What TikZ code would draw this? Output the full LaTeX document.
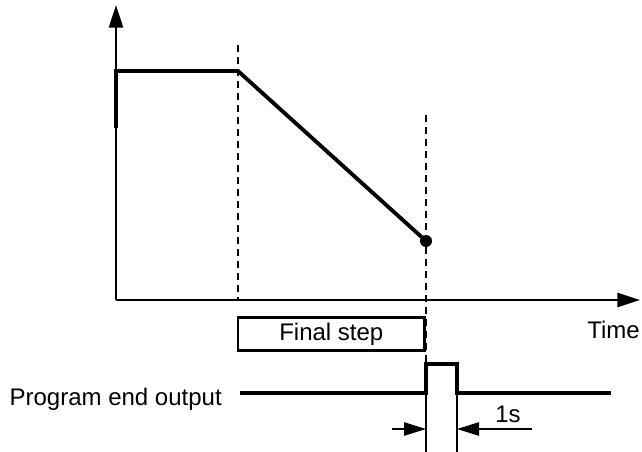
\documentclass[tikz,border=0pt]{standalone}
\usepackage{fontspec}
\setmainfont{Liberation Sans}
\usetikzlibrary{arrows.meta,positioning}
\tikzset{
  axisline/.style={line width=1.9pt,-{Triangle[length=17pt,width=10.5pt]}},
  profile/.style={line width=2.9pt},
  guide/.style={line width=1pt,dash pattern=on 5.5pt off 3.5pt},
  stepbox/.style={rectangle,draw,line width=2pt,minimum width=140pt,minimum height=25pt,
    inner sep=0pt,font=\fontsize{18}{21}\selectfont},
  signal/.style={line width=2.5pt},
  dimline/.style={line width=1.1pt},
  dimarrow/.style={line width=1.1pt,-{Triangle[length=16.5pt,width=10pt]}},
  enddot/.style={circle,fill,inner sep=0pt,minimum size=9pt},
  lbl/.style={inner sep=0pt,font=\fontsize{18}{21}\selectfont}
}

\begin{document}
\begin{tikzpicture}[x=0.75pt,y=-0.75pt]
  \useasboundingbox (0,0) rectangle (642,452);
  \coordinate (orig) at (116,300);
  \coordinate (ytop) at (116,5);
  \coordinate (xend) at (640,300);
  \coordinate (rise) at (116,128);
  \coordinate (hold) at (116,71);
  \coordinate (knee) at (238,71);
  \coordinate (kneetop) at (238,45);
  \coordinate (kneebot) at (238,300);
  \coordinate (stoptop) at (426,115);
  \coordinate (lowa) at (240,393);
  \coordinate (pulsea) at (426,393);
  \coordinate (pulseb) at (426,364);
  \coordinate (pulsec) at (457,364);
  \coordinate (pulsed) at (457,393);
  \coordinate (lowb) at (611,393);
  \coordinate (marka) at (426,452);
  \coordinate (markb) at (457,452);
  \coordinate (dimla) at (392,429);
  \coordinate (dimlb) at (426,429);
  \coordinate (dimra) at (532,429);
  \coordinate (dimrb) at (457,429);
  \node[enddot] (endpt) at (426,241) {};
  \node[stepbox,anchor=north east] (final) at (426,316) {Final step};
  \node[lbl,anchor=base east] (timelbl) at (640,338) {Time};
  \node[lbl,anchor=base east] (endlbl) at (222,405) {Program end output};
  \node[lbl,anchor=base west] (onesec) at (495,422) {1s};
  \draw[guide] (kneetop) -- (kneebot);
  \draw[guide] (stoptop) -- (pulseb);
  \draw[axisline] (orig) -- (ytop);
  \draw[axisline] (orig) -- (xend);
  \draw[profile] (rise) -- (hold) -- (knee) -- (endpt.center);
  \draw[signal] (lowa) -- (pulsea) -- (pulseb) -- (pulsec) -- (pulsed) -- (lowb);
  \draw[dimline] (pulsea) -- (marka);
  \draw[dimline] (pulsed) -- (markb);
  \draw[dimarrow] (dimla) -- (dimlb);
  \draw[dimarrow] (dimra) -- (dimrb);
\end{tikzpicture}
\end{document}
